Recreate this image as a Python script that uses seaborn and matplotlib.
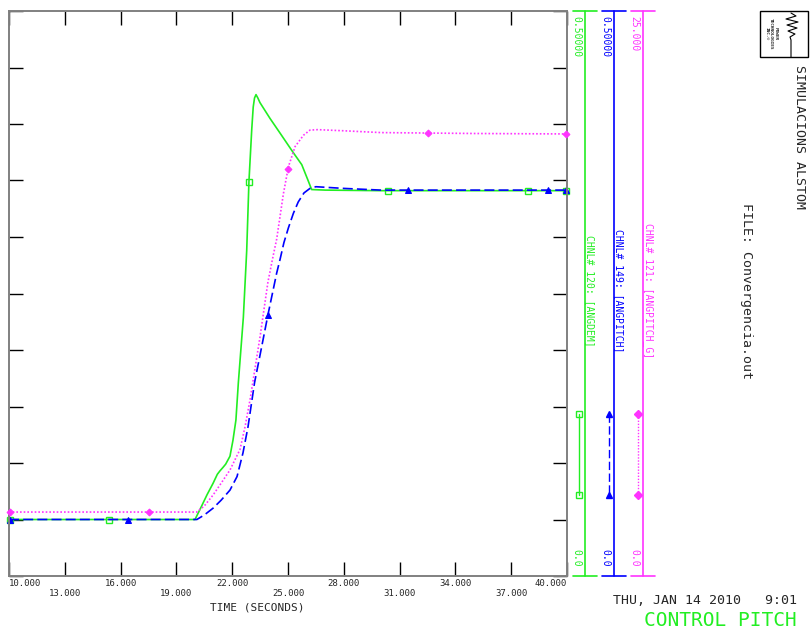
import numpy as np
import matplotlib
matplotlib.use("Agg")
import matplotlib.pyplot as plt
import seaborn as sns
from matplotlib.lines import Line2D
from matplotlib.patches import Rectangle

# CHNL# 120: [ANGDEM]  (escala 0 - 0.5)
time_angdem = [10.0, 20.0, 20.3, 20.65, 20.97, 21.2, 21.34, 21.5, 21.65, 21.88, 22.04, 22.2, 22.33, 22.6,
               22.78, 22.9, 23.05, 23.13, 23.2, 23.28, 23.38, 23.49, 24.03, 24.57, 25.27, 25.74, 26.08,
               26.27, 27.0, 30.0, 35.0, 40.0]
angdem = [0.050, 0.050, 0.060, 0.072, 0.082, 0.090, 0.093, 0.096, 0.099, 0.106, 0.120, 0.138, 0.171, 0.229,
          0.288, 0.349, 0.395, 0.415, 0.423, 0.426, 0.423, 0.419, 0.405, 0.392, 0.375, 0.364, 0.350,
          0.342, 0.3415, 0.341, 0.341, 0.341]

# CHNL# 149: [ANGPITCH]  (escala 0 - 0.5)
time_angpitch = [10.0, 20.1, 20.5, 20.97, 21.4, 21.88, 22.26, 22.58, 22.85, 23.2, 23.55, 23.92,
                 24.39, 24.57, 24.78, 25.02, 25.29, 25.55, 25.86, 26.18, 26.5, 27.0, 28.0, 30.0, 40.0]
angpitch = [0.050, 0.050, 0.054, 0.060, 0.067, 0.076, 0.088, 0.109, 0.132, 0.171, 0.200, 0.231,
            0.268, 0.280, 0.295, 0.308, 0.321, 0.331, 0.339, 0.343, 0.3445, 0.344, 0.343, 0.3415, 0.3415]

# CHNL# 121: [ANGPITCH_G]  (escala 0 - 25)
time_angpitch_g = [10.0, 20.1, 20.5, 20.97, 21.4, 21.88, 22.42, 22.69, 22.96, 23.5, 23.92, 24.21,
                   24.39, 24.75, 25.02, 25.38, 25.83, 26.18, 26.6, 28.0, 30.0, 35.0, 40.0]
angpitch_g = [2.83, 2.83, 3.1, 3.58, 4.1, 4.69, 5.6, 6.6, 7.8, 10.6, 13.0, 14.2,
              14.9, 16.9, 18.1, 19.0, 19.5, 19.73, 19.75, 19.7, 19.62, 19.58, 19.56]

# posicao dos simbolos em cada curva
mark_angdem = [10.05, 15.4, 22.9, 30.4, 37.9, 39.95]
mark_angpitch = [10.05, 16.4, 23.92, 31.45, 38.98, 39.95]
mark_angpitch_g = [10.05, 17.5, 25.0, 32.5, 39.95]

xticks = [10, 13, 16, 19, 22, 25, 28, 31, 34, 37, 40]
xtick_labels = ["10.000", "\n13.000", "16.000", "\n19.000", "22.000", "\n25.000",
                "28.000", "\n31.000", "34.000", "\n37.000", "40.000"]

GREEN = "#22ee22"
BLUE = "#0000ff"
MAGENTA = "#ff33ff"
GRAY = "#808080"

sns.set_theme(style="white")
plt.rcParams["font.family"] = ["DejaVu Sans Mono"]

W, H = 810, 630
fig = plt.figure(figsize=(8.1, 6.3), dpi=100)


def fx(x):
    return x / W


def fy(y):
    return 1 - y / H


ax = fig.add_axes([fx(9), fy(576), (567 - 9) / W, (576 - 11) / H])
ax2 = ax.twinx()

# curvas
sns.lineplot(x=time_angdem, y=angdem, ax=ax, color=GREEN, lw=1.2)
sns.lineplot(x=mark_angdem, y=np.interp(mark_angdem, time_angdem, angdem), ax=ax,
             color=GREEN, linestyle="", marker="s", ms=4.5, mfc="none", mec=GREEN, mew=1, clip_on=False)
sns.lineplot(x=time_angpitch, y=angpitch, ax=ax, color=BLUE, lw=1.2, linestyle=(0, (6, 2.5)))
sns.lineplot(x=mark_angpitch, y=np.interp(mark_angpitch, time_angpitch, angpitch), ax=ax,
             color=BLUE, linestyle="", marker="^", ms=4.5, mec=BLUE, clip_on=False)

sns.lineplot(x=time_angpitch_g, y=angpitch_g, ax=ax2, color=MAGENTA, lw=1.2, linestyle=(0, (1, 1.2)))
sns.lineplot(x=mark_angpitch_g, y=np.interp(mark_angpitch_g, time_angpitch_g, angpitch_g), ax=ax2,
             color=MAGENTA, linestyle="", marker="D", ms=3.5, mec=MAGENTA, clip_on=False)

ax.set_xlim(10, 40)
ax.set_ylim(0, 0.5)
ax2.set_ylim(0, 25)
ax2.set_axis_off()

ax.set_xticks(xticks)
ax.set_xticklabels(xtick_labels, fontsize=6.5)
labels = ax.get_xticklabels()
labels[0].set_ha("left")
labels[-1].set_ha("right")
ax.set_yticks(np.linspace(0, 0.5, 11))
ax.set_yticklabels([])
ax.set_xlabel("")
ax.set_ylabel("")
ax.tick_params(axis="both", direction="in", length=10, width=1, color="black",
               top=True, right=True, bottom=True, left=True, pad=2)
for s in ax.spines.values():
    s.set_color(GRAY)
    s.set_linewidth(1.4)

fig.text(fx(257), fy(607), "TIME (SECONDS)", fontsize=8, ha="center", va="center")

# escalas dos canais a direita
channels = [
    (585, 579, GREEN, "0.50000", "CHNL# 120: [ANGDEM]", "-", "s", "none"),
    (614, 609, BLUE, "0.50000", "CHNL# 149: [ANGPITCH]", (0, (6, 2.5)), "^", BLUE),
    (643, 638, MAGENTA, "25.000", "CHNL# 121: [ANGPITCH_G]", (0, (1, 1.2)), "D", MAGENTA),
]
for xl, xs, col, top_txt, name, ls, mk, mfc in channels:
    fig.add_artist(Line2D([fx(xl), fx(xl)], [fy(11), fy(576)], color=col, lw=1.2))
    fig.add_artist(Line2D([fx(xl - 12), fx(xl + 12)], [fy(11), fy(11)], color=col, lw=1.2))
    fig.add_artist(Line2D([fx(xl - 12), fx(xl + 12)], [fy(576), fy(576)], color=col, lw=1.2))
    fig.text(fx(xl - 9), fy(16), top_txt, color=col, fontsize=7, rotation=-90, ha="center", va="top")
    fig.text(fx(xl - 9), fy(567), "0.0", color=col, fontsize=7, rotation=-90, ha="center", va="bottom")
    fig.text(fx(xl + 5), fy(291), name, color=col, fontsize=7, rotation=-90, ha="center", va="center")
    fig.add_artist(Line2D([fx(xs), fx(xs)], [fy(414), fy(495)], color=col, lw=1, linestyle=ls,
                          marker=mk, ms=4, mfc=mfc, mec=col))

# titulo / cabecalho
fig.text(fx(800), fy(137), "SIMULACIONS ALSTOM", fontsize=9.5, rotation=-90, ha="center", va="center")
fig.text(fx(746), fy(291), "FILE: Convergencia.out", fontsize=9.5, rotation=-90, ha="center", va="center")
fig.text(fx(797), fy(600), "THU, JAN 14 2010   9:01", fontsize=9.5, ha="right", va="center")
fig.text(fx(797), fy(620), "CONTROL PITCH", fontsize=14, color=GREEN, ha="right", va="center")

# logo
fig.add_artist(Rectangle((fx(760), fy(57)), (808 - 760) / W, (57 - 11) / H, fill=False,
                         ec="black", lw=1, transform=fig.transFigure))
fig.text(fx(771), fy(34), "POWER\nTECHNOLOGIES\nINC.®", fontsize=3.2, rotation=-90,
         ha="center", va="center", fontweight="bold")
zig_y = [13, 16, 19, 22, 25, 28, 31, 34, 37, 40, 57]
zig_x = [791, 796, 786, 798, 787, 797, 788, 795, 790, 791, 791]
fig.add_artist(Line2D([fx(v) for v in zig_x], [fy(v) for v in zig_y], color="black", lw=0.8))

fig.savefig("out.png", dpi=100)
